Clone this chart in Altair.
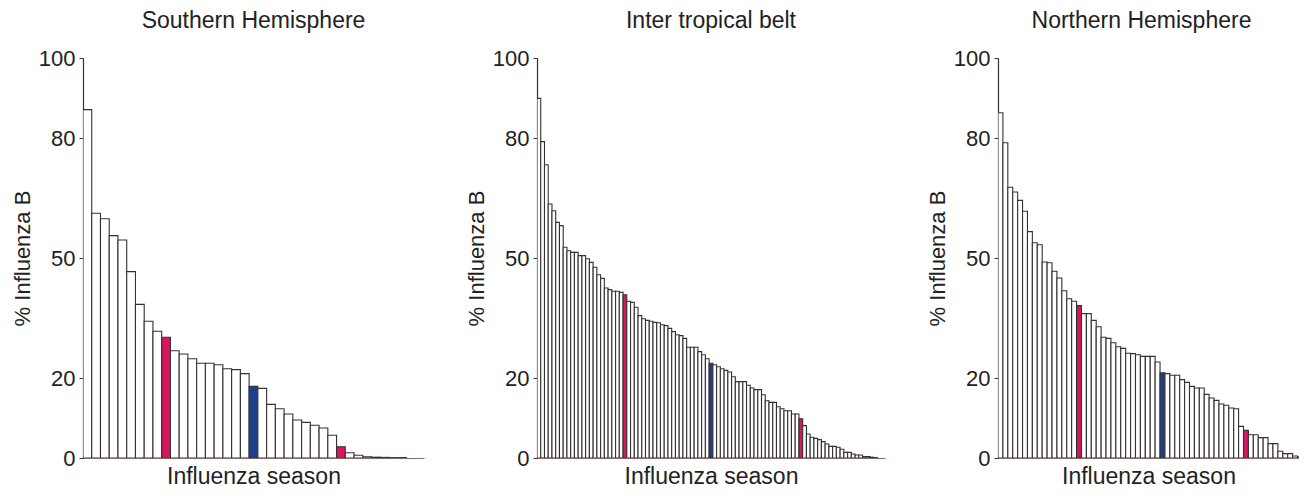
import altair as alt
import pandas as pd

# --- data (percent influenza B per season, sorted) ---
sh_values = [87.1, 61.2, 59.8, 55.6, 54.5, 46.6, 38.4, 34.2, 31.7, 30.2,
             26.8, 26.0, 24.8, 23.7, 23.7, 23.3, 22.3, 22.1, 21.1, 17.9,
             17.4, 13.4, 12.3, 11.0, 9.5, 8.9, 8.2, 7.5, 5.7, 2.8,
             1.3, 0.7, 0.3, 0.2, 0.15, 0.1, 0.1]
sh_pink = [9, 29]
sh_blue = [19]

itb_values = [89.9, 79.1, 73.3, 63.5, 61.8, 58.9, 58.1, 52.7, 51.8, 51.4,
              51.4, 50.6, 50.6, 49.8, 48.9, 47.7, 45.8, 44.9, 42.5, 42.1,
              41.7, 41.7, 41.4, 40.8, 39.2, 38.9, 37.7, 35.6, 34.8, 34.4,
              34.2, 33.9, 33.8, 33.3, 33.1, 32.4, 31.6, 30.8, 30.6, 29.9,
              27.7, 27.7, 27.7, 26.6, 25.8, 24.8, 23.7, 23.3, 22.8, 22.3,
              21.9, 21.5, 20.3, 19.1, 19.1, 19.1, 18.2, 17.5, 17.1, 17.1,
              15.8, 14.3, 13.9, 13.9, 12.8, 12.3, 11.8, 11.8, 11.0, 11.0,
              9.8, 8.1, 6.0, 5.2, 4.9, 4.6, 4.1, 3.5, 2.9, 2.9,
              2.7, 2.2, 1.4, 1.4, 1.0, 0.75, 0.75, 0.35, 0.35, 0.2,
              0.1]
itb_pink = [23, 70]
itb_blue = [46]

nh_values = [86.3, 78.8, 67.7, 66.5, 64.4, 61.7, 56.6, 53.8, 53.3, 49.0,
             48.8, 46.7, 45.0, 41.8, 39.8, 39.2, 38.1, 36.1, 36.1, 34.4,
             32.8, 30.2, 29.9, 28.8, 27.8, 27.4, 26.2, 26.1, 25.8, 25.4,
             25.4, 25.4, 24.0, 21.3, 21.1, 20.7, 20.7, 19.6, 18.9, 17.9,
             17.5, 17.5, 15.9, 15.0, 14.4, 13.5, 13.2, 12.5, 12.3, 7.9,
             6.9, 5.8, 5.8, 5.1, 5.1, 3.6, 3.6, 1.7, 1.1, 1.1,
             0.5, 0.3, 0.2]
nh_pink = [16, 50]
nh_blue = [33]

titles = ["Southern Hemisphere", "Inter tropical belt", "Northern Hemisphere"]
y_ticks = [0, 20, 50, 80, 100]

FONT = "Liberation Sans"
TXT = "#222222"


def panel(title, values, pink, blue, slots, width, title_dx=0):
    df = pd.DataFrame({"i": list(range(len(values))), "v": values})
    df["i1"] = df["i"] + 1
    df["kind"] = ["pink" if i in pink else ("blue" if i in blue else "none")
                  for i in df["i"]]
    return alt.Chart(df, title=alt.Title(
        title, font=FONT, fontSize=23, fontWeight="normal", color=TXT,
        anchor="middle", frame="group", offset=14, dx=title_dx)
    ).mark_bar(stroke="#333333", strokeWidth=1.1, clip=True).encode(
        x=alt.X("i:Q",
                scale=alt.Scale(domain=[0, slots], nice=False, zero=False),
                axis=alt.Axis(title="Influenza season", labels=False,
                              ticks=False, grid=False,
                              domainColor="#8a6d63", domainWidth=1.2,
                              titleFont=FONT, titleFontSize=23,
                              titleFontWeight="normal", titleColor=TXT,
                              titlePadding=7)),
        x2="i1",
        y=alt.Y("v:Q",
                scale=alt.Scale(domain=[0, 100], nice=False),
                axis=alt.Axis(values=y_ticks, title="% Influenza B",
                              grid=False, domainColor="#333333",
                              domainWidth=1.2, tickColor="#333333",
                              tickSize=4, labelFont=FONT, labelFontSize=22,
                              labelColor=TXT, labelPadding=4,
                              titleFont=FONT, titleFontSize=22,
                              titleFontWeight="normal", titleColor=TXT,
                              titlePadding=4)),
        y2=alt.datum(0),
        fill=alt.Fill("kind:N",
                      scale=alt.Scale(domain=["none", "pink", "blue"],
                                      range=["white", "#d8155f", "#1d3f8c"]),
                      legend=None),
    ).properties(width=width, height=400)


p1 = panel(titles[0], sh_values, sh_pink, sh_blue, 39, 341)
p2 = panel(titles[1], itb_values, itb_pink, itb_blue, 93, 348)
p3 = panel(titles[2], nh_values, nh_pink, nh_blue, 61.3, 301, title_dx=-7)

chart = alt.hconcat(p1, p2, p3, spacing=41).configure_view(
    stroke=None
).properties(padding={"left": 3, "top": 2, "right": 0, "bottom": 0})

chart.save("out.html", embed_options={"renderer": "svg", "actions": False})
